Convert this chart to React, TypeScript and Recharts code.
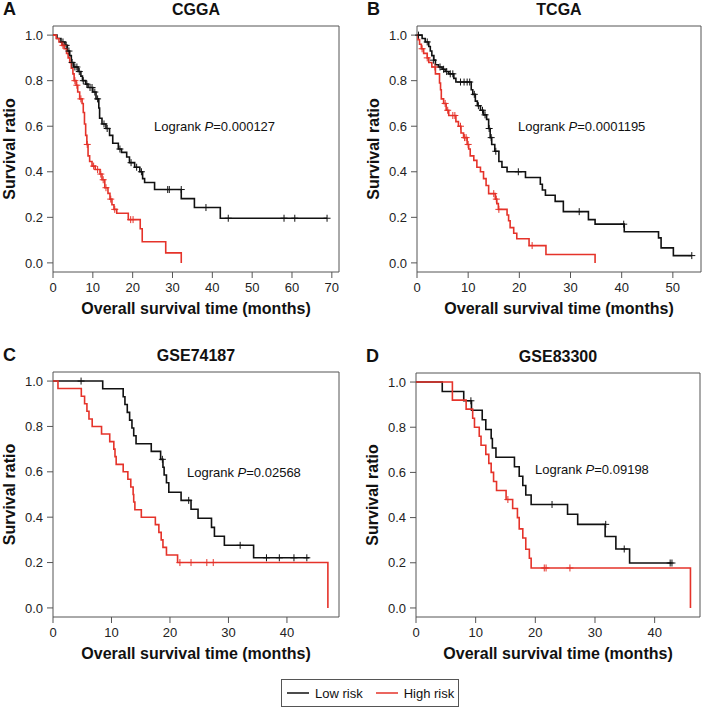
import React from "react";
import { ComposedChart, Line, Scatter, XAxis, YAxis, ReferenceArea, Label, Legend } from "recharts";

type Pt = [number, number];

// Kaplan-Meier steps: [month, survival after the drop]
const cggaLow: Pt[] = [
  [0, 1], [1.0, 0.985], [2.0, 0.97], [3.0, 0.955], [3.6, 0.93], [4.2, 0.91], [4.6, 0.88], [5.2, 0.86],
  [6.3, 0.84], [7.0, 0.82], [7.4, 0.8], [8.2, 0.785], [8.8, 0.77], [10.0, 0.75], [10.8, 0.72], [11.5, 0.68],
  [11.7, 0.635], [12.3, 0.61], [13.3, 0.59], [14.2, 0.56], [15.0, 0.525], [16.4, 0.5], [17.2, 0.485],
  [18.5, 0.465], [19.2, 0.44], [20.5, 0.42], [21.8, 0.4], [22.5, 0.37], [23.0, 0.353], [25.5, 0.322],
  [32.2, 0.282], [35.5, 0.243], [42.0, 0.196], [68.8, 0.196],
];
const cggaHigh: Pt[] = [
  [0, 1], [0.8, 0.985], [1.5, 0.97], [2.2, 0.955], [2.8, 0.94], [3.4, 0.92], [3.8, 0.9], [4.2, 0.88],
  [4.6, 0.855], [5.0, 0.83], [5.3, 0.8], [5.8, 0.78], [6.2, 0.75], [6.7, 0.72], [7.3, 0.7], [7.6, 0.66],
  [7.9, 0.61], [8.2, 0.56], [8.5, 0.52], [8.8, 0.47], [9.2, 0.445], [9.8, 0.425], [10.6, 0.41], [11.8, 0.39],
  [12.3, 0.365], [13.0, 0.33], [13.8, 0.305], [14.3, 0.28], [14.8, 0.255], [15.3, 0.235], [16.0, 0.218],
  [18.9, 0.19], [21.9, 0.15], [22.4, 0.093], [28.3, 0.044], [32.2, 0],
];
const cggaLowCensor: Pt[] = [
  [2.5, 0.97], [3.3, 0.955], [4.0, 0.93], [4.8, 0.88], [5.5, 0.86], [6.0, 0.86], [6.6, 0.84], [7.6, 0.8],
  [8.5, 0.785], [9.3, 0.77], [9.8, 0.77], [10.5, 0.75], [11.2, 0.72], [12.8, 0.61], [13.6, 0.59],
  [16.8, 0.5], [19.6, 0.44], [21.0, 0.42], [22.2, 0.4], [28.8, 0.322], [29.2, 0.322], [32.2, 0.322],
  [38.4, 0.243], [44.0, 0.196], [58.0, 0.196], [60.7, 0.196], [68.8, 0.196],
];
const cggaHighCensor: Pt[] = [
  [2.5, 0.955], [5.5, 0.8], [6.0, 0.78], [7.0, 0.72], [8.6, 0.52], [10.2, 0.425], [11.2, 0.41],
  [12.0, 0.39], [12.6, 0.365], [13.3, 0.33], [14.5, 0.28], [15.5, 0.235], [19.5, 0.19], [20.1, 0.19],
];

const tcgaLow: Pt[] = [
  [0, 1], [1.0, 0.985], [1.6, 0.97], [2.3, 0.95], [2.6, 0.93], [2.9, 0.91], [3.3, 0.89], [3.6, 0.87],
  [4.2, 0.86], [4.9, 0.85], [5.5, 0.84], [6.2, 0.83], [7.2, 0.81], [7.6, 0.794], [10.6, 0.76], [10.9, 0.74],
  [11.4, 0.71], [11.8, 0.69], [12.4, 0.67], [13.0, 0.65], [13.6, 0.63], [14.0, 0.59], [14.3, 0.55],
  [14.6, 0.52], [15.2, 0.49], [16.0, 0.445], [16.6, 0.42], [17.6, 0.4], [21.2, 0.375], [24.1, 0.345],
  [24.5, 0.32], [25.1, 0.297], [27.0, 0.27], [28.6, 0.225], [33.5, 0.19], [34.8, 0.17], [40.5, 0.137],
  [47.2, 0.11], [47.7, 0.066], [50.1, 0.032], [53.7, 0.032],
];
const tcgaHigh: Pt[] = [
  [0, 1], [0.2, 0.98], [0.5, 0.96], [0.85, 0.94], [1.3, 0.92], [2.0, 0.9], [2.3, 0.88], [2.9, 0.86],
  [3.6, 0.83], [4.4, 0.79], [4.6, 0.76], [4.75, 0.72], [5.2, 0.7], [5.7, 0.67], [6.2, 0.647], [7.6, 0.62],
  [8.1, 0.6], [8.6, 0.57], [9.1, 0.55], [9.8, 0.52], [10.1, 0.5], [10.4, 0.47], [11.1, 0.45], [11.7, 0.42],
  [12.4, 0.4], [13.0, 0.37], [13.5, 0.34], [14.0, 0.304], [15.3, 0.28], [15.6, 0.26], [15.9, 0.235],
  [17.6, 0.21], [17.9, 0.185], [18.2, 0.155], [18.9, 0.13], [19.5, 0.106], [21.9, 0.076], [25.2, 0.037],
  [34.8, 0],
];
const tcgaLowCensor: Pt[] = [
  [0.3, 1], [2.0, 0.97], [3.2, 0.89], [4.5, 0.86], [5.2, 0.85], [5.8, 0.84], [6.5, 0.83], [7.0, 0.83],
  [8.5, 0.794], [9.2, 0.794], [9.8, 0.794], [10.3, 0.794], [11.2, 0.74], [12.0, 0.69], [12.8, 0.67],
  [13.3, 0.65], [14.1, 0.59], [14.5, 0.55], [15.4, 0.49], [19.8, 0.4], [31.7, 0.225], [40.4, 0.17],
  [53.7, 0.032],
];
const tcgaHighCensor: Pt[] = [
  [1.0, 0.94], [2.0, 0.9], [3.5, 0.86], [5.5, 0.7], [6.0, 0.67], [7.0, 0.647], [7.4, 0.647], [8.5, 0.6],
  [9.3, 0.55], [9.6, 0.55], [10.0, 0.52], [15.0, 0.304], [15.5, 0.28], [16.0, 0.235], [22.5, 0.076],
];

const gse74Low: Pt[] = [
  [0, 1], [8.5, 0.966], [12.0, 0.931], [12.3, 0.897], [12.7, 0.862], [13.1, 0.828], [13.5, 0.793],
  [13.8, 0.759], [14.2, 0.724], [16.8, 0.69], [18.4, 0.655], [18.8, 0.62], [19.0, 0.586], [19.4, 0.552],
  [19.8, 0.51], [21.9, 0.474], [23.6, 0.435], [24.8, 0.395], [27.1, 0.355], [27.6, 0.316], [29.3, 0.276],
  [34.3, 0.221], [43.8, 0.221],
];
const gse74High: Pt[] = [
  [0, 1], [0.85, 0.967], [4.84, 0.933], [5.4, 0.9], [5.8, 0.867], [6.15, 0.833], [6.7, 0.8], [8.3, 0.767],
  [9.7, 0.733], [10.4, 0.7], [10.6, 0.667], [10.8, 0.633], [12.0, 0.6], [12.8, 0.567], [13.3, 0.533],
  [13.7, 0.5], [13.8, 0.467], [14.0, 0.433], [15.1, 0.4], [17.5, 0.367], [18.1, 0.333], [18.5, 0.3],
  [18.8, 0.267], [19.4, 0.233], [21.3, 0.2], [47.0, 0],
];
const gse74LowCensor: Pt[] = [
  [4.8, 1], [18.7, 0.655], [23.2, 0.474], [32.0, 0.276], [36.5, 0.221], [38.7, 0.221], [41.2, 0.221],
  [43.4, 0.221],
];
const gse74HighCensor: Pt[] = [[21.7, 0.2], [23.6, 0.2], [26.3, 0.2], [27.4, 0.2]];

const gse83Low: Pt[] = [
  [0, 1], [4.4, 0.958], [8.0, 0.917], [9.3, 0.875], [11.1, 0.833], [11.7, 0.79], [12.6, 0.75],
  [12.8, 0.708], [13.4, 0.667], [16.5, 0.625], [17.3, 0.583], [17.9, 0.542], [18.4, 0.5], [19.3, 0.458],
  [25.4, 0.415], [27.1, 0.37], [31.7, 0.316], [33.5, 0.261], [35.8, 0.199], [42.8, 0.199],
];
const gse83High: Pt[] = [
  [0, 1], [6.1, 0.92], [8.4, 0.88], [9.5, 0.84], [9.8, 0.8], [10.6, 0.76], [10.9, 0.72], [11.7, 0.68],
  [12.2, 0.64], [12.6, 0.6], [13.0, 0.56], [13.5, 0.52], [15.1, 0.48], [16.2, 0.44], [17.0, 0.4],
  [17.3, 0.35], [17.9, 0.31], [18.4, 0.26], [19.0, 0.22], [19.3, 0.177], [46.0, 0],
];
const gse83LowCensor: Pt[] = [[9.2, 0.917], [22.8, 0.458], [31.8, 0.37], [34.9, 0.261], [42.6, 0.199], [42.9, 0.199]];
const gse83HighCensor: Pt[] = [[15.4, 0.48], [21.5, 0.177], [21.8, 0.177], [25.8, 0.177]];

const survTicks = [0, 0.2, 0.4, 0.6, 0.8, 1.0];
const ticks70 = [0, 10, 20, 30, 40, 50, 60, 70];
const ticks50 = [0, 10, 20, 30, 40, 50];
const ticks40 = [0, 10, 20, 30, 40];
const legendOrder = ["Low risk", "High risk"];

const FONT = '"Liberation Sans", Arial, Helvetica, sans-serif';
const BLACK = "#111111";
const RED = "#e5332a";
const FRAME = "#555555";

const rows = (pts: Pt[]) => pts.map(([t, s]) => ({ t, s }));

function Cross(props: any) {
  const { cx, cy, fill } = props;
  if (cx == null || cy == null) return null;
  return (
    <path d={`M${cx - 3.5},${cy}H${cx + 3.5}M${cx},${cy - 3.5}V${cy + 3.5}`} stroke={fill} strokeWidth={1} />
  );
}

function renderLegend(props: any) {
  const items = (props.payload || [])
    .filter((e: any) => e.type !== "none" && legendOrder.includes(e.value))
    .sort((a: any, b: any) => legendOrder.indexOf(a.value) - legendOrder.indexOf(b.value));
  return (
    <div
      style={{
        boxSizing: "border-box", width: 178, height: 28, border: `1px solid ${FRAME}`, background: "#fff",
        display: "flex", alignItems: "center", paddingLeft: 5, fontFamily: FONT, fontSize: 13, color: "#111",
      }}
    >
      {items.map((e: any, i: number) => (
        <span key={e.value} style={{ display: "inline-flex", alignItems: "center", marginRight: i === 0 ? 13 : 0 }}>
          <svg width={22} height={4}>
            <line x1={0} y1={2} x2={22} y2={2} stroke={e.color} strokeWidth={1.5} />
          </svg>
          <span style={{ marginLeft: 6 }}>{e.value}</span>
        </span>
      ))}
    </div>
  );
}

type PanelProps = {
  letter: string;
  title: string;
  pValue: string;
  low: Pt[];
  high: Pt[];
  lowCensor: Pt[];
  highCensor: Pt[];
  xMax: number;
  xTicks: number[];
  left: number;
  top: number;
  axisWidth: number;
  margin: { top: number; right: number; bottom: number; left: number };
  pDx: number;
  pDy: number;
  legend?: boolean;
};

function Panel(p: PanelProps) {
  const tick = { fill: "#222", fontSize: 13, fontFamily: FONT };
  const decorations = (props: any) => {
    const { x, y, width, height } = props.viewBox;
    return (
      <g fontFamily={FONT} fill="#111">
        <text x={x - 50} y={y - 11} fontSize={18} fontWeight="bold">{p.letter}</text>
        <text x={x + width / 2} y={y - 11} fontSize={16} fontWeight="bold" textAnchor="middle">{p.title}</text>
        <text x={x + width / 2} y={y + height + 42} fontSize={16} fontWeight="bold" textAnchor="middle">
          Overall survival time (months)
        </text>
        <text
          transform={`translate(${x - 38},${y + height / 2}) rotate(-90)`}
          fontSize={16}
          fontWeight="bold"
          textAnchor="middle"
        >
          Survival ratio
        </text>
        <text x={x + p.pDx} y={y + p.pDy} fontSize={13}>
          Logrank <tspan fontStyle="italic">P</tspan>={p.pValue}
        </text>
      </g>
    );
  };
  return (
    <div style={{ position: "absolute", left: p.left, top: p.top }}>
      <ComposedChart width={352} height={340} margin={p.margin}>
        <XAxis
          dataKey="t"
          type="number"
          domain={[0, p.xMax]}
          ticks={p.xTicks}
          tick={tick}
          tickSize={6}
          tickMargin={5}
          tickLine={{ stroke: FRAME }}
          axisLine={false}
        />
        <YAxis
          dataKey="s"
          type="number"
          width={p.axisWidth}
          domain={[-0.04, 1.04]}
          ticks={survTicks}
          tickFormatter={(v: number) => v.toFixed(1)}
          tick={tick}
          tickSize={6}
          tickMargin={4}
          tickLine={{ stroke: FRAME }}
          axisLine={false}
        />
        <ReferenceArea x1={0} x2={p.xMax} y1={-0.04} y2={1.04} fill="none" stroke={FRAME} strokeWidth={1}>
          <Label content={decorations} />
        </ReferenceArea>
        <Line
          data={rows(p.low)}
          dataKey="s"
          name="Low risk"
          type="stepAfter"
          stroke={BLACK}
          strokeWidth={1.6}
          dot={false}
          activeDot={false}
          isAnimationActive={false}
        />
        <Scatter
          data={rows(p.lowCensor)}
          dataKey="s"
          fill={BLACK}
          shape={Cross}
          legendType="none"
          isAnimationActive={false}
        />
        <Line
          data={rows(p.high)}
          dataKey="s"
          name="High risk"
          type="stepAfter"
          stroke={RED}
          strokeWidth={1.6}
          dot={false}
          activeDot={false}
          isAnimationActive={false}
        />
        <Scatter
          data={rows(p.highCensor)}
          dataKey="s"
          fill={RED}
          shape={Cross}
          legendType="none"
          isAnimationActive={false}
        />
        {p.legend && (
          <Legend
            layout="horizontal"
            verticalAlign="middle"
            align="center"
            content={renderLegend}
            wrapperStyle={{ position: "absolute", left: 281, top: 349, width: 178, height: 28 }}
          />
        )}
      </ComposedChart>
    </div>
  );
}

export default function App() {
  return (
    <div style={{ position: "absolute", left: 0, top: 0, width: 704, height: 708, background: "#fff" }}>
      <Panel
        letter="A" title="CGGA" pValue="0.000127"
        low={cggaLow} high={cggaHigh} lowCensor={cggaLowCensor} highCensor={cggaHighCensor}
        xMax={71.8} xTicks={ticks70}
        left={0} top={0} axisWidth={53} margin={{ top: 26, right: 13, bottom: 38, left: 0 }}
        pDx={101} pDy={105}
      />
      <Panel
        letter="B" title="TCGA" pValue="0.0001195"
        low={tcgaLow} high={tcgaHigh} lowCensor={tcgaLowCensor} highCensor={tcgaHighCensor}
        xMax={55.5} xTicks={ticks50}
        left={352} top={0} axisWidth={65} margin={{ top: 26, right: 3, bottom: 38, left: 0 }}
        pDx={101} pDy={105}
      />
      <Panel
        letter="C" title="GSE74187" pValue="0.02568"
        low={gse74Low} high={gse74High} lowCensor={gse74LowCensor} highCensor={gse74HighCensor}
        xMax={48.9} xTicks={ticks40}
        left={0} top={330} axisWidth={53} margin={{ top: 42, right: 13, bottom: 23, left: 0 }}
        pDx={134} pDy={105}
        legend
      />
      <Panel
        letter="D" title="GSE83300" pValue="0.09198"
        low={gse83Low} high={gse83High} lowCensor={gse83LowCensor} highCensor={gse83HighCensor}
        xMax={47.6} xTicks={ticks40}
        left={352} top={330} axisWidth={64} margin={{ top: 43, right: 4, bottom: 23, left: 0 }}
        pDx={119} pDy={101}
      />
    </div>
  );
}
